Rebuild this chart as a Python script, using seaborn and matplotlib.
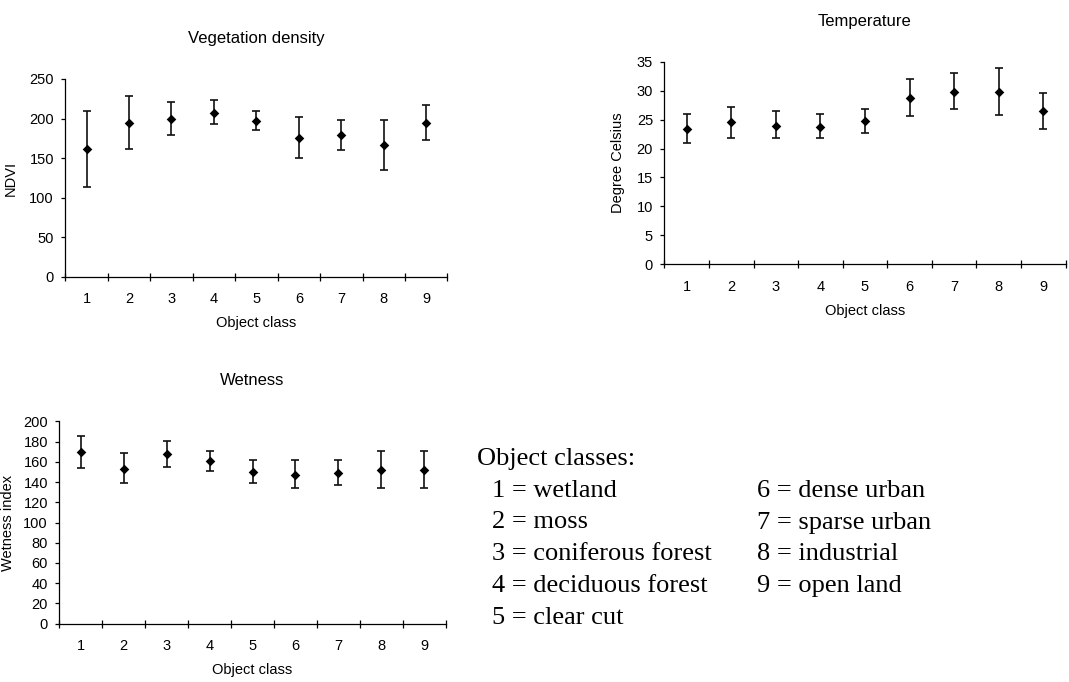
import numpy as np
import pandas as pd
import matplotlib
matplotlib.use("Agg")
import matplotlib.pyplot as plt
import seaborn as sns
from matplotlib.ticker import FixedLocator, FixedFormatter, NullFormatter

# ---------------- data ----------------
classes = [1, 2, 3, 4, 5, 6, 7, 8, 9]
class_labels = ["1", "2", "3", "4", "5", "6", "7", "8", "9"]

ndvi_mean = [161, 195, 199.5, 207.5, 197, 176, 179, 166.5, 195]
ndvi_low = [114, 162, 179, 193, 185, 150, 160, 135.5, 173]
ndvi_high = [209, 229, 221, 224, 210, 202, 198, 198.5, 217]

temp_mean = [23.4, 24.6, 23.95, 23.8, 24.75, 28.8, 29.8, 29.8, 26.4]
temp_low = [20.95, 21.9, 21.8, 21.8, 22.7, 25.6, 26.8, 25.8, 23.4]
temp_high = [25.9, 27.2, 26.4, 26.0, 26.9, 32.0, 33.0, 33.9, 29.6]

wet_mean = [169.7, 152.9, 167.4, 160.5, 150, 147, 149, 152, 152]
wet_low = [153.9, 138.8, 154.9, 150.6, 139, 133.8, 137, 134.5, 134.5]
wet_high = [185.5, 168.4, 180.6, 170.4, 161.5, 161.5, 161.5, 170.7, 170.7]

legend_title = "Object classes:"
legend_left = ["1 = wetland", "2 = moss", "3 = coniferous forest",
               "4 = deciduous forest", "5 = clear cut"]
legend_right = ["6 = dense urban", "7 = sparse urban", "8 = industrial",
                "9 = open land"]

# ---------------- style ----------------
sns.set_style("ticks")
plt.rcParams["font.family"] = ["Liberation Sans", "DejaVu Sans"]

fig = plt.figure(figsize=(10.69, 6.82), dpi=100)
W, H = 1069, 682


def px_axes(left, right, top, bottom):
    return fig.add_axes([left / W, 1 - bottom / H, (right - left) / W, (bottom - top) / H])


def draw(ax, mean, low, high, ymax, ystep, title, ylabel, ylab_x):
    mean = np.asarray(mean, float)
    low = np.asarray(low, float)
    high = np.asarray(high, float)
    df = pd.DataFrame({"cls": classes, "val": mean})
    ax.errorbar(classes, mean, yerr=[mean - low, high - mean], fmt="none",
                ecolor="#111111", elinewidth=1.2, capsize=2.8, capthick=1.2, zorder=2)
    sns.scatterplot(data=df, x="cls", y="val", marker="D", s=24, color="black",
                    edgecolor="black", linewidth=0, ax=ax, zorder=3, legend=False)
    ax.set_xlim(0.5, 9.5)
    ax.set_ylim(0, ymax)
    ax.set_yticks(np.arange(0, ymax + ystep / 2, ystep))
    ax.xaxis.set_major_locator(FixedLocator(np.arange(0.5, 10, 1.0)))
    ax.xaxis.set_major_formatter(NullFormatter())
    ax.xaxis.set_minor_locator(FixedLocator(classes))
    ax.xaxis.set_minor_formatter(FixedFormatter(class_labels))
    ax.tick_params(axis="x", which="major", direction="inout", length=5.5,
                   width=0.9, color="black")
    ax.tick_params(axis="x", which="minor", length=0, pad=11, labelsize=10.5,
                   labelcolor="black")
    ax.tick_params(axis="y", which="major", direction="out", length=3.2,
                   width=0.9, pad=5, labelsize=10.5, color="black", labelcolor="black")
    for s in ["top", "right"]:
        ax.spines[s].set_visible(False)
    for s in ["left", "bottom"]:
        ax.spines[s].set_color("black")
        ax.spines[s].set_linewidth(0.9)
    ax.set_title(title, fontsize=12, pad=26, color="black")
    ax.set_xlabel("Object class", fontsize=10.5, color="black")
    ax.set_ylabel(ylabel, fontsize=10.5, color="black")
    ax.xaxis.set_label_coords(0.5, -0.195)
    ax.yaxis.set_label_coords(ylab_x, 0.5)


ax1 = px_axes(65.3, 447.5, 79, 277)
draw(ax1, ndvi_mean, ndvi_low, ndvi_high, 250, 50, "Vegetation density", "NDVI", -0.124)

ax2 = px_axes(664.4, 1065.5, 61.7, 264.3)
draw(ax2, temp_mean, temp_low, temp_high, 35, 5, "Temperature", "Degree Celsius", -0.098)

ax3 = px_axes(59.3, 445.7, 421.3, 623.7)
draw(ax3, wet_mean, wet_low, wet_high, 200, 20, "Wetness", "Wetness index", -0.115)

# ---------------- class legend text ----------------
serif = ["Liberation Serif", "DejaVu Serif"]
fs = 19
fig.text(477 / W, 1 - 465 / H, legend_title, family=serif, fontsize=fs,
         va="baseline", ha="left", color="black")
baselines = [497, 528.5, 560, 592, 624]
for txt, b in zip(legend_left, baselines):
    fig.text(492 / W, 1 - b / H, txt, family=serif, fontsize=fs,
             va="baseline", ha="left", color="black")
for txt, b in zip(legend_right, baselines):
    fig.text(757 / W, 1 - b / H, txt, family=serif, fontsize=fs,
             va="baseline", ha="left", color="black")

fig.savefig("out.png", dpi=100)
